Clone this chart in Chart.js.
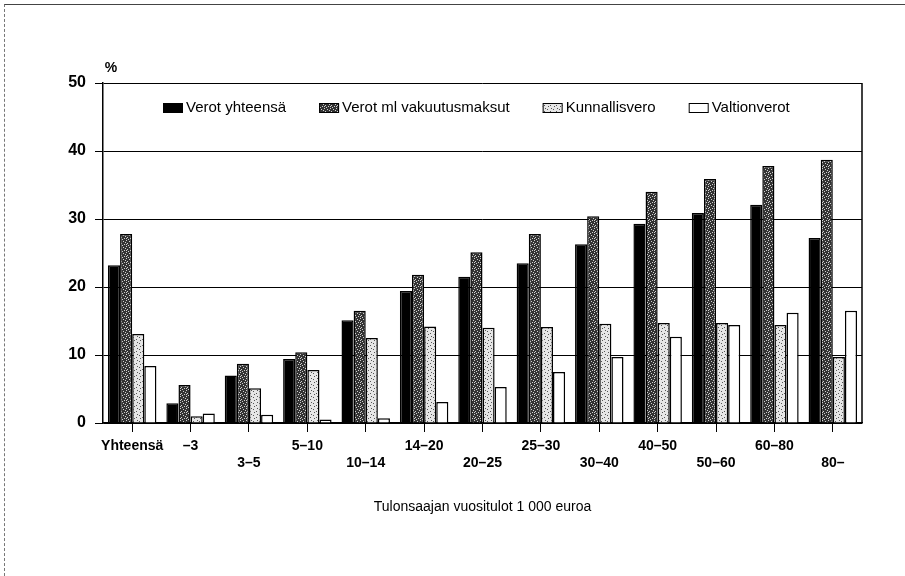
<!DOCTYPE html>
<html>
<head>
<meta charset="utf-8">
<script src="https://cdn.jsdelivr.net/npm/chart.js@4/dist/chart.umd.min.js"></script>
<style>
  html, body { margin: 0; padding: 0; background: #fff; }
  #wrap { position: relative; width: 905px; height: 576px; overflow: hidden; }
  #frame { position: absolute; left: 4px; top: 4px; right: -10px; bottom: -10px;
           border-top: 1px solid #444; border-left: 1px dashed #777; pointer-events: none; }
  canvas { position: absolute; left: 0; top: 0; }
</style>
</head>
<body>
<div id="wrap">
  <canvas id="chart" width="905" height="576"></canvas>
  <div id="frame"></div>
</div>
<script>
const FONT = "'Liberation Sans', Arial, sans-serif";

const categories = ['Yhteensä', '–3', '3–5', '5–10', '10–14', '14–20', '20–25', '25–30', '30–40', '40–50', '50–60', '60–80', '80–'];
const verotYhteensa = [23.2, 2.9, 7.0, 9.4, 15.1, 19.4, 21.5, 23.5, 26.3, 29.3, 30.9, 32.1, 27.2];
const verotVakuutus = [27.8, 5.6, 8.7, 10.4, 16.5, 21.8, 25.1, 27.8, 30.4, 34.0, 35.9, 37.8, 38.7];
const kunnallisvero = [13.1, 1.0, 5.1, 7.8, 12.5, 14.2, 14.0, 14.1, 14.6, 14.7, 14.7, 14.4, 9.7];
const valtionverot = [8.4, 1.4, 1.2, 0.5, 0.7, 3.1, 5.3, 7.5, 9.7, 12.7, 14.4, 16.2, 16.5];
const yTicks = [0, 10, 20, 30, 40, 50];

const ctx = document.getElementById('chart').getContext('2d');

// speckled fills like the printed raster
const makePattern = (base, dot, cells) => {
    const c = document.createElement('canvas');
    c.width = 6;
    c.height = 6;
    const p = c.getContext('2d');
    p.fillStyle = base;
    p.fillRect(0, 0, 6, 6);
    p.fillStyle = dot;
    cells.forEach(([x, y]) => p.fillRect(x, y, 1, 1));
    return ctx.createPattern(c, 'repeat');
};
const darkFill = makePattern('#333', '#d0d0d0', [[0, 0], [3, 1], [1, 3], [4, 4], [2, 5], [5, 2], [0, 4]]);
const lightFill = makePattern('#e6e6e6', '#555', [[1, 1], [4, 3], [2, 4], [5, 0]]);

const legendPlugin = {
    id: 'boxLegend',
    afterDraw(chart) {
        const c = chart.ctx;
        const area = chart.chartArea;
        let x = area.left + 60;
        const y = area.top + 25;
        c.save();
        c.font = '15px ' + FONT;
        c.textBaseline = 'middle';
        chart.data.datasets.forEach(ds => {
            c.fillStyle = ds.backgroundColor;
            c.fillRect(x, y - 5, 20, 10);
            c.strokeStyle = '#000';
            c.lineWidth = 1;
            c.strokeRect(x + 0.5, y - 4.5, 19, 9);
            c.fillStyle = '#000';
            c.fillText(ds.label, x + 23, y);
            x += 23 + c.measureText(ds.label).width + 33;
        });
        c.restore();
    }
};

const extrasPlugin = {
    id: 'extras',
    afterDraw(chart) {
        const c = chart.ctx;
        const area = chart.chartArea;
        c.save();
        c.strokeStyle = '#000';
        c.lineWidth = 1.5;
        c.beginPath();
        c.moveTo(area.right, area.top);
        c.lineTo(area.right, area.bottom);
        c.stroke();
        c.fillStyle = '#000';
        c.font = 'bold 14px ' + FONT;
        c.textAlign = 'center';
        c.textBaseline = 'middle';
        c.fillText('%', area.left + 8, area.top - 15);
        c.restore();
    }
};

new Chart(ctx, {
    type: 'bar',
    data: {
        labels: categories,
        datasets: [
            { label: 'Verot yhteensä', data: verotYhteensa, backgroundColor: '#000' },
            { label: 'Verot ml vakuutusmaksut', data: verotVakuutus, backgroundColor: darkFill },
            { label: 'Kunnallisvero', data: kunnallisvero, backgroundColor: lightFill },
            { label: 'Valtionverot', data: valtionverot, backgroundColor: '#fff' }
        ].map(ds => Object.assign(ds, {
            borderColor: '#000',
            borderWidth: 1.5,
            barPercentage: 1,
            categoryPercentage: 0.83
        }))
    },
    options: {
        responsive: false,
        animation: false,
        devicePixelRatio: 1,
        layout: { padding: { top: 83, right: 43, left: 0, bottom: 0 } },
        plugins: {
            legend: { display: false },
            tooltip: { enabled: false }
        },
        scales: {
            x: {
                grid: { drawOnChartArea: false, offset: false, tickLength: 9, color: '#000', lineWidth: 1 },
                border: { display: true, color: '#000', width: 1.5 },
                ticks: {
                    color: '#000',
                    font: { family: FONT, size: 14, weight: 'bold' },
                    padding: 6,
                    maxRotation: 0,
                    autoSkip: false,
                    callback: (value, i) => (i >= 2 && i % 2 === 0) ? ['', categories[i]] : categories[i]
                },
                title: {
                    display: true,
                    text: 'Tulonsaajan vuositulot 1 000 euroa',
                    color: '#000',
                    font: { family: FONT, size: 14 },
                    padding: { top: 0, bottom: 60 }
                },
                afterFit: scale => { scale.height = 153; }
            },
            y: {
                min: 0,
                max: 50,
                afterBuildTicks: scale => { scale.ticks = yTicks.map(v => ({ value: v })); },
                grid: { color: '#000', lineWidth: 1, tickLength: 8 },
                border: { display: true, color: '#000', width: 1.5 },
                ticks: {
                    color: '#000',
                    font: { family: FONT, size: 16, weight: 'bold' },
                    padding: 9
                },
                afterFit: scale => { scale.width = 103; }
            }
        }
    },
    plugins: [legendPlugin, extrasPlugin]
});
</script>
</body>
</html>
